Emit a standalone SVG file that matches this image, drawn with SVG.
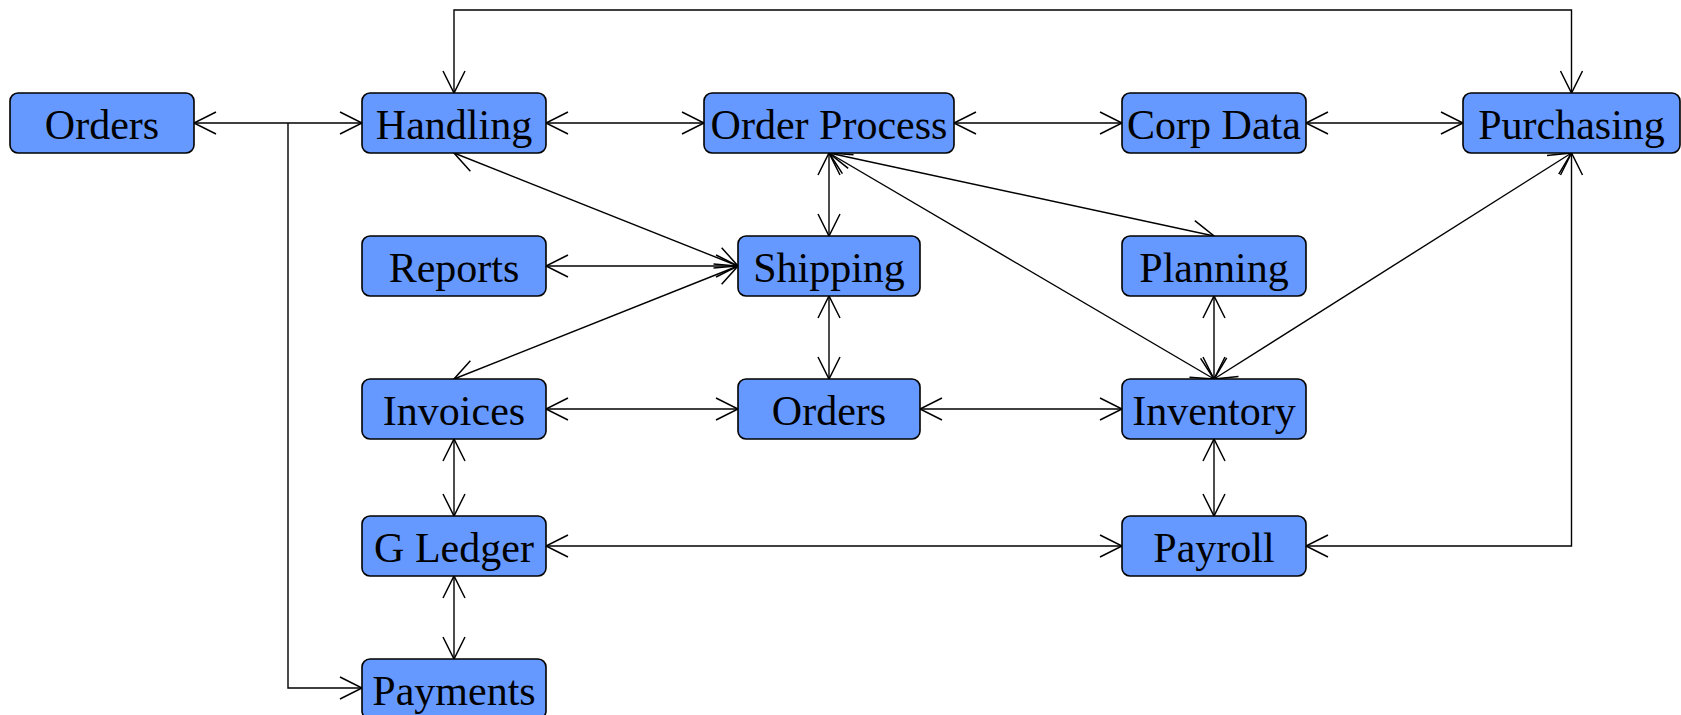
<svg xmlns="http://www.w3.org/2000/svg" width="1681" height="715" viewBox="0 0 1681 715">
<style>
.n rect{fill:#6699ff;stroke:#000;stroke-width:1.6}
.n text{font-family:"Liberation Serif","Times New Roman",serif;font-size:42px;fill:#000;text-anchor:middle}
.c path{fill:none;stroke:#000;stroke-width:1.4}
.b{marker-start:url(#a);marker-end:url(#a)}
.e{marker-end:url(#a)}
</style>
<defs>
<marker id="a" viewBox="-25 -13 27 26" refX="0" refY="0" markerWidth="27" markerHeight="26" orient="auto-start-reverse" markerUnits="userSpaceOnUse">
<path d="M-22,-11 L0,0 L-22,11" fill="none" stroke="#000" stroke-width="1.5"/>
</marker>
</defs>
<rect width="1681" height="715" fill="#fff"/>
<g class="c" id="connectors">
<path class="b" d="M194,123 H362"/>
<path class="e" d="M288,123 V688 H362"/>
<path class="b" d="M454,93 V10 H1571.5 V93"/>
<path class="b" d="M546,123 H704"/>
<path class="b" d="M954,123 H1122"/>
<path class="b" d="M1306,123 H1463"/>
<path class="b" d="M454,153 L738,266"/>
<path class="b" d="M546,266 H738"/>
<path class="b" d="M454,379 L738,266"/>
<path class="b" d="M829,153 V236"/>
<path class="b" d="M829,153 L1214,236"/>
<path class="b" d="M829,153 L1214,379"/>
<path class="b" d="M1571.5,153 L1214,379"/>
<path class="b" d="M1214,296 V379"/>
<path class="b" d="M829,296 V379"/>
<path class="b" d="M546,409 H738"/>
<path class="b" d="M920,409 H1122"/>
<path class="b" d="M454,439 V516"/>
<path class="b" d="M454,576 V659"/>
<path class="b" d="M1214,439 V516"/>
<path class="b" d="M546,546 H1122"/>
<path class="b" d="M1571.5,153 V546 H1306"/>
</g>
<g class="n" id="n-orders1"><rect x="10" y="93" width="184" height="60" rx="8"/><text x="102" y="139">Orders</text></g>
<g class="n" id="n-handling"><rect x="362" y="93" width="184" height="60" rx="8"/><text x="454" y="139">Handling</text></g>
<g class="n" id="n-orderprocess"><rect x="704" y="93" width="250" height="60" rx="8"/><text x="829" y="139">Order Process</text></g>
<g class="n" id="n-corpdata"><rect x="1122" y="93" width="184" height="60" rx="8"/><text x="1214" y="139">Corp Data</text></g>
<g class="n" id="n-purchasing"><rect x="1463" y="93" width="217" height="60" rx="8"/><text x="1571.5" y="139">Purchasing</text></g>
<g class="n" id="n-reports"><rect x="362" y="236" width="184" height="60" rx="8"/><text x="454" y="282">Reports</text></g>
<g class="n" id="n-shipping"><rect x="738" y="236" width="182" height="60" rx="8"/><text x="829" y="282">Shipping</text></g>
<g class="n" id="n-planning"><rect x="1122" y="236" width="184" height="60" rx="8"/><text x="1214" y="282">Planning</text></g>
<g class="n" id="n-invoices"><rect x="362" y="379" width="184" height="60" rx="8"/><text x="454" y="425">Invoices</text></g>
<g class="n" id="n-orders2"><rect x="738" y="379" width="182" height="60" rx="8"/><text x="829" y="425">Orders</text></g>
<g class="n" id="n-inventory"><rect x="1122" y="379" width="184" height="60" rx="8"/><text x="1214" y="425">Inventory</text></g>
<g class="n" id="n-gledger"><rect x="362" y="516" width="184" height="60" rx="8"/><text x="454" y="562">G Ledger</text></g>
<g class="n" id="n-payroll"><rect x="1122" y="516" width="184" height="60" rx="8"/><text x="1214" y="562">Payroll</text></g>
<g class="n" id="n-payments"><rect x="362" y="659" width="184" height="60" rx="8"/><text x="454" y="705">Payments</text></g>
</svg>
